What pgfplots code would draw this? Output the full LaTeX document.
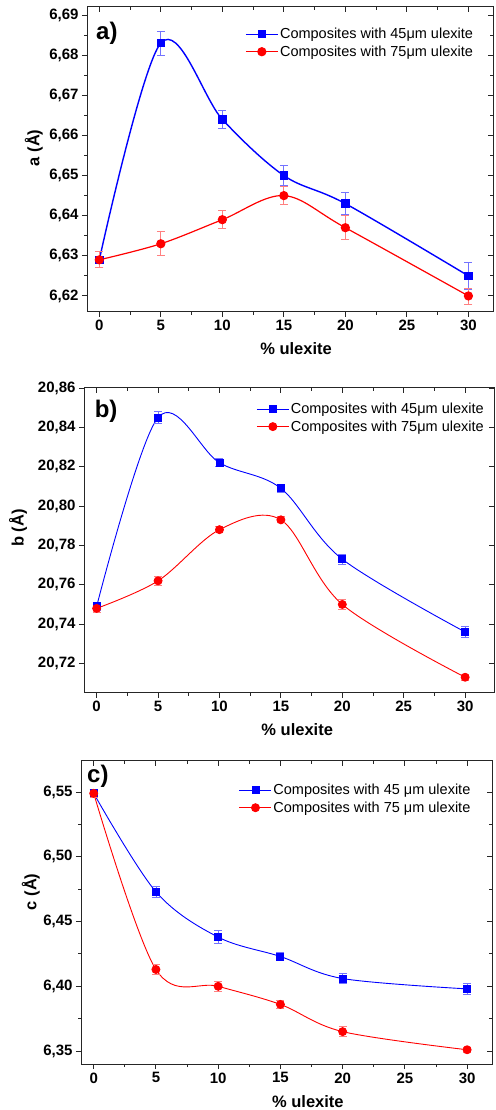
\documentclass[border=0pt]{standalone}
\usepackage{fontspec}
\setmainfont{Liberation Sans}
\usepackage{pgfplots}
\usepackage{pgfplotstable}
\pgfplotsset{compat=1.18}

\pgfplotstableread{
x y e
0 6.629 0.002
5 6.683 0.003
10 6.664 0.0022
15 6.650 0.0025
20 6.643 0.0028
30 6.625 0.0034
}\aA
\pgfplotstableread{
x y e
0 6.629 0.002
5 6.633 0.003
10 6.639 0.0022
15 6.645 0.0022
20 6.637 0.003
30 6.620 0.002
}\aB
\pgfplotstableread{
x y e
0 20.749 0.002
5 20.845 0.003
10 20.822 0.002
15 20.809 0.002
20 20.773 0.0025
30 20.736 0.003
}\bA
\pgfplotstableread{
x y e
0 20.748 0.002
5 20.762 0.0025
10 20.788 0.0015
15 20.793 0.0015
20 20.750 0.0025
30 20.713 0.0015
}\bB
\pgfplotstableread{
x y e
0 6.549 0.003
5 6.473 0.004
10 6.438 0.005
15 6.423 0.003
20 6.406 0.004
30 6.398 0.004
}\cA
\pgfplotstableread{
x y e
0 6.549 0.003
5 6.413 0.004
10 6.400 0.004
15 6.386 0.003
20 6.365 0.004
30 6.351 0.002
}\cB

\newcommand{\labfont}{\bfseries\fontsize{16.5}{16.5}\selectfont}
\pgfplotsset{
  panel/.style={
    scale only axis,
    axis line style={black!85, line width=1pt},
    tick style={black!85, line width=0.9pt},
    major tick length=5pt, minor tick length=3pt,
    tick align=outside, tick pos=left,
    xtick={0,5,...,30}, minor x tick num=1,
    minor y tick num=1,
    /pgf/number format/assume math mode=true,
    ticklabel style={font=\bfseries\fontsize{15}{15}\selectfont},
    xticklabel style={/pgf/number format/.cd, fixed, precision=0},
    yticklabel style={/pgf/number format/.cd, fixed, fixed zerofill, precision=2, use comma},
    xlabel={\% ulexite},
    legend style={draw=none, fill=none, inner sep=0pt, font=\fontsize{14.5}{14.5}\selectfont,
      row sep=2.5pt, nodes={inner sep=1.5pt}},
    legend cell align=left,
    legend image code/.code={\draw[mark repeat=2, mark phase=2] plot coordinates {(0pt,0pt) (16pt,0pt) (32pt,0pt)};},
  },
  mirror/.style={
    scale only axis, axis line style={draw=none},
    tick style={black!85, line width=0.9pt},
    major tick length=5pt, minor tick length=3pt,
    tick align=inside, tick pos=right,
    xtick={0,5,...,30}, minor x tick num=1, minor y tick num=1,
    xticklabels={}, yticklabels={},
  },
  ser45/.style={blue, line width=#1, smooth, tension=0.55, mark=square*, mark size=3.5pt, mark options={solid, fill=blue},
    error bars/.cd, y dir=both, y explicit,
    error bar style={blue!55, line width=0.8pt},
    error mark options={rotate=90, mark size=4pt, blue!55, line width=0.8pt}},
  ser75/.style={red, line width=#1, smooth, tension=0.55, mark=*, mark size=4pt, mark options={solid, fill=red},
    error bars/.cd, y dir=both, y explicit,
    error bar style={red!50, line width=0.8pt},
    error mark options={rotate=90, mark size=4pt, red!50, line width=0.8pt}},
}

\begin{document}
\begin{tikzpicture}
\useasboundingbox (0,0) rectangle (495pt,1110pt);

% ---- panel a
\begin{axis}[panel, at={(87pt,798pt)}, anchor=south west, width=406pt, height=305pt,
  xmin=-1, xmax=32, ymin=6.616, ymax=6.692, ytick={6.62,6.63,...,6.695},
  ylabel={a (Å)},
  every axis y label/.style={at={(axis description cs:-0.131,0.538)}, rotate=90, anchor=center, font=\labfont},
  every axis x label/.style={at={(axis description cs:0.515,-0.121)}, anchor=center, font=\labfont},
  legend style={at={(axis description cs:0.389,0.936)}, anchor=north west}]
\addplot[ser45=1.4pt] table[x=x, y=y, y error=e] {\aA};
\addlegendentry{Composites with 45μm ulexite}
\addplot[ser75=1.2pt] table[x=x, y=y, y error=e] {\aB};
\addlegendentry{Composites with 75μm ulexite}
\node[font=\bfseries\fontsize{24}{24}\selectfont] at (axis description cs:0.049,0.915) {a)};
\end{axis}
\begin{axis}[mirror, at={(87pt,798pt)}, anchor=south west, width=406pt, height=305pt,
  xmin=-1, xmax=32, ymin=6.616, ymax=6.692, ytick={6.62,6.63,...,6.695}]
\end{axis}

% ---- panel b
\begin{axis}[panel, at={(84pt,417pt)}, anchor=south west, width=410pt, height=305pt,
  xmin=-1.03, xmax=32.35, ymin=20.705, ymax=20.86, ytick={20.72,20.74,...,20.865},
  ylabel={b (Å)},
  every axis y label/.style={at={(axis description cs:-0.161,0.541)}, rotate=90, anchor=center, font=\labfont},
  every axis x label/.style={at={(axis description cs:0.52,-0.121)}, anchor=center, font=\labfont},
  legend style={at={(axis description cs:0.42,0.956)}, anchor=north west}]
\addplot[ser45=0.9pt] table[x=x, y=y, y error=e] {\bA};
\addlegendentry{Composites with 45μm ulexite}
\addplot[ser75=0.9pt] table[x=x, y=y, y error=e] {\bB};
\addlegendentry{Composites with 75μm ulexite}
\node[font=\bfseries\fontsize{24}{24}\selectfont] at (axis description cs:0.054,0.925) {b)};
\end{axis}
\begin{axis}[mirror, at={(84pt,417pt)}, anchor=south west, width=410pt, height=305pt,
  xmin=-1.03, xmax=32.35, ymin=20.705, ymax=20.86, ytick={20.72,20.74,...,20.865}]
\end{axis}

% ---- panel c
\begin{axis}[panel, at={(81pt,46pt)}, anchor=south west, width=411pt, height=303pt,
  xmin=-1.02, xmax=32, ymin=6.340, ymax=6.574, ytick={6.35,6.40,...,6.56},
  ylabel={c (Å)},
  every axis y label/.style={at={(axis description cs:-0.122,0.568)}, rotate=90, anchor=center, font=\labfont},
  every axis x label/.style={at={(axis description cs:0.552,-0.125)}, anchor=center, font=\labfont},
  legend style={at={(axis description cs:0.384,0.929)}, anchor=north west}]
\addplot[ser45=0.9pt] table[x=x, y=y, y error=e] {\cA};
\addlegendentry{Composites with 45 μm ulexite}
\addplot[ser75=0.9pt] table[x=x, y=y, y error=e] {\cB};
\addlegendentry{Composites with 75 μm ulexite}
\node[font=\bfseries\fontsize{24}{24}\selectfont] at (axis description cs:0.041,0.95) {c)};
\end{axis}
\begin{axis}[mirror, at={(81pt,46pt)}, anchor=south west, width=411pt, height=303pt,
  xmin=-1.02, xmax=32, ymin=6.340, ymax=6.574, ytick={6.35,6.40,...,6.56}]
\end{axis}
\end{tikzpicture}
\end{document}
